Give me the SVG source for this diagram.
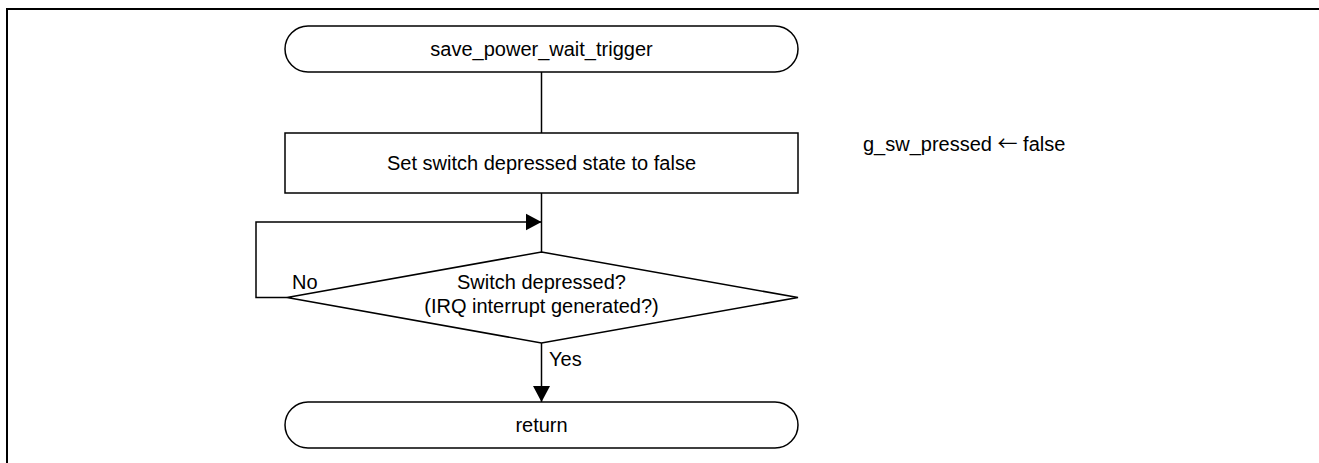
<svg xmlns="http://www.w3.org/2000/svg" width="1319" height="463" viewBox="0 0 1319 463">
  <style>
    .shape { fill: #ffffff; stroke: #000000; stroke-width: 1.5; }
    .edge { fill: none; stroke: #000000; stroke-width: 1.5; }
    .label { font-family: "Liberation Sans", Arial, sans-serif; font-size: 20px; fill: #000000; }
    .mid { text-anchor: middle; }
    .sym { font-family: "Noto Sans CJK JP", "DejaVu Sans", sans-serif; }
  </style>
  <defs>
    <marker id="arrow" markerUnits="userSpaceOnUse" markerWidth="16" markerHeight="18" refX="16" refY="9" orient="auto">
      <path d="M0,0.5 L16,9 L0,17.5 Z" fill="#000000"/>
    </marker>
  </defs>

  <rect width="1319" height="463" fill="#ffffff"/>
  <!-- page frame -->
  <path d="M7,463 V9 H1319" fill="none" stroke="#000000" stroke-width="2"/>

  <!-- connectors -->
  <g id="connectors">
    <line class="edge" x1="541.5" y1="72" x2="541.5" y2="133"/>
    <line class="edge" x1="541.5" y1="193" x2="541.5" y2="252"/>
    <polyline class="edge" points="287,297.5 256,297.5 256,222 541.5,222" marker-end="url(#arrow)"/>
    <line class="edge" x1="541.5" y1="343" x2="541.5" y2="402" marker-end="url(#arrow)"/>
    <text class="label" x="292" y="289">No</text>
    <text class="label" x="549" y="366">Yes</text>
  </g>

  <!-- start terminal -->
  <g id="start">
    <rect class="shape" x="285" y="26" width="513" height="46" rx="23" ry="23"/>
    <text class="label mid" x="541.5" y="56">save_power_wait_trigger</text>
  </g>

  <!-- clear switch flag -->
  <g id="clear-flag">
    <rect class="shape" x="285" y="133" width="513" height="60"/>
    <text class="label mid" x="541.5" y="170">Set switch depressed state to false</text>
  </g>

  <!-- wait for switch -->
  <g id="check-switch">
    <polygon class="shape" points="541.5,252 798,297.5 541.5,343 287,297.5"/>
    <text class="label mid" x="541.5" y="289">Switch depressed?</text>
    <text class="label mid" x="541.5" y="313">(IRQ interrupt generated?)</text>
  </g>

  <!-- end terminal -->
  <g id="end">
    <rect class="shape" x="285" y="402" width="513" height="46" rx="23" ry="23"/>
    <text class="label mid" x="541.5" y="432">return</text>
  </g>

  <!-- side note -->
  <g id="note">
    <text class="label" x="863" y="151">g_sw_pressed <tspan class="sym">←</tspan> false</text>
  </g>
</svg>
